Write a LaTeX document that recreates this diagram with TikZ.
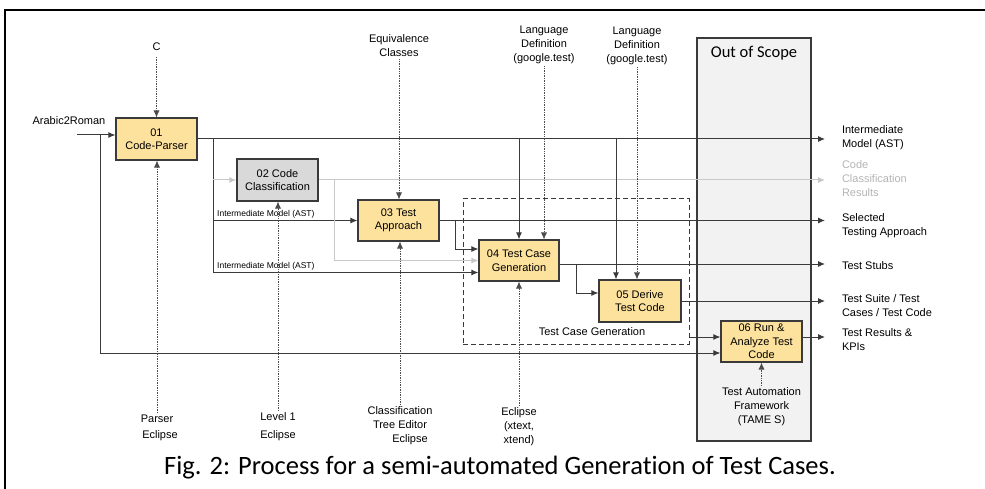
\documentclass[tikz,border=0pt]{standalone}
\usepackage{fontspec}
\setmainfont{Liberation Sans}
\newfontfamily\calibri[Ligatures=NoCommon]{Carlito}
\usepackage{xcolor}
\usetikzlibrary{arrows.meta}
\definecolor{procfill}{HTML}{FDE29D}
\definecolor{classfill}{HTML}{D9D9D9}
\definecolor{scopefill}{HTML}{F2F2F2}
\definecolor{lineclr}{HTML}{3A3A3A}
\definecolor{greyclr}{HTML}{C8C8C8}
\tikzset{>={Latex[length=7pt,width=6pt]}}

\begin{document}
\begin{tikzpicture}[line join=miter,x=1pt,y=-1pt,
	lbl/.style={align=center,font=\fontsize{11}{14}\selectfont,inner sep=2pt},
	proc/.style={draw=lineclr,line width=1.1pt,fill=procfill,minimum width=81pt,minimum height=42pt,align=center,font=\fontsize{11}{13.5}\selectfont,inner sep=1pt},
	flow/.style={->,draw=lineclr,line width=1pt},
	gflow/.style={->,draw=greyclr,line width=1pt},
	tool/.style={->,draw=black!70,densely dotted,line width=0.7pt},
	outlbl/.style={lbl,anchor=west,align=left,outer xsep=15pt},
	small/.style={font=\fontsize{8.5}{10}\selectfont,inner sep=1pt}]
		\useasboundingbox (0,0) rectangle (985,489);
		\draw[line width=1.5pt] (5,489) -- (5,10) -- (985,10);
		% out of scope and group
		\node[draw=lineclr,line width=1.1pt,fill=scopefill,minimum width=114pt,minimum height=403pt] (oos) at (754,239.5) {};
		\node[font=\calibri\fontsize{16.5}{18}\selectfont] (lOos) at (754,53) {Out of Scope};
		\node[draw=lineclr,line width=1pt,dash pattern=on 5pt off 3pt,minimum width=226pt,minimum height=145pt] (tcg) at (576,271.5) {};
		\node[lbl] (lTcg) at (592,332) {Test Case Generation};
		% process boxes
		\node[proc] (b01) at (156.5,139) {01\\Code-Parser};
		\node[proc,fill=classfill] (b02) at (277.5,180) {02 Code\\Classification};
		\node[proc,minimum height=41pt] (b03) at (398.5,220.5) {03 Test\\Approach};
		\node[proc,minimum width=80pt,minimum height=41pt] (b04) at (519,260.5) {04 Test Case\\Generation};
		\node[proc,minimum width=82pt] (b05) at (640,301) {05 Derive\\Test Code};
		\node[proc,minimum height=41pt] (b06) at (761.5,341.5) {06 Run \&\\Analyze Test\\Code};
		% inputs and tools
		\node[lbl] (lIn) at (69,121) {Arabic2Roman};
		\node[lbl] (lC) at (156.5,47) {C};
		\node[lbl] (lEq) at (399,46) {Equivalence\\Classes};
		\node[lbl] (lLang1) at (544,45) {Language\\Definition\\(google.test)};
		\node[lbl] (lLang2) at (637,46) {Language\\Definition\\(google.test)};
		\node[lbl] (lParser) at (157,428) {Parser\\[2pt]\hspace*{6pt}Eclipse};
		\node[lbl] (lLevel) at (278,427) {Level 1\\[4pt]Eclipse};
		\node[lbl] (lCte) at (400,426) {Classification\\Tree Editor\\\hspace*{20pt}Eclipse};
		\node[lbl] (lXtext) at (519,427) {Eclipse\\(xtext,\\xtend)};
		\node[lbl] (lTames) at (761.5,407) {Test Automation\\Framework\\(TAME S)};
		% outputs
		\node[outlbl] (oAST) at (825,138) {Intermediate\\Model (AST)};
		\node[outlbl,text=greyclr!90!black] (oCls) at (825,179) {Code\\Classification\\Results};
		\node[outlbl] (oSel) at (825,226) {Selected\\Testing Approach};
		\node[outlbl] (oStub) at (825,266) {Test Stubs};
		\node[outlbl] (oSuite) at (825,306) {Test Suite / Test\\Cases / Test Code};
		\node[outlbl] (oRes) at (825,340) {Test Results \&\\KPIs};
		\coordinate (in) at (77,135);
		\coordinate (j0) at (100,135);
		\coordinate (j1) at (213,139);
		\coordinate (j2) at (334,180);
		\coordinate (j3) at (455,220.5);
		\coordinate (j4) at (576,264);
		% control flow
		\draw[flow] (in) -- (in -| b01.west);
		\draw[flow] (j0) |- ([yshift=-11.5pt]b06.west);
		\draw[flow] (b01.east) -- (b01.east -| oAST.west);
		\draw[flow] (j1) |- (b03.west);
		\draw[flow] (j1) |- ([yshift=-12pt]b04.west);
		\node[small,anchor=south west] (lAst1) at (216,219) {Intermediate Model (AST)};
		\node[small,anchor=south west] (lAst2) at (216,271) {Intermediate Model (AST)};
		\draw[gflow] (j1 |- b02.west) -- (b02.west);
		\draw[gflow] (b02.east) -- (b02.east -| oCls.west);
		\draw[gflow] (j2) |- (b04.west);
		\draw[flow] (b03.east) -- (b03.east -| oSel.west);
		\draw[flow] (j3) |- ([yshift=11.5pt]b04.west);
		\draw[flow] (b04.north |- b01.east) -- (b04.north);
		\draw[flow] ([xshift=-24pt]b05.north |- b01.east) -- ([xshift=-24pt]b05.north);
		\draw[flow] ([yshift=-3.5pt]b04.east) -- ([yshift=-3.5pt]b04.east -| oStub.west);
		\draw[flow] (j4) |- ([yshift=8pt]b05.west);
		\draw[flow] (b05.east) -- (b05.east -| oSuite.west);
		\draw[flow] ([yshift=4.5pt]b06.west -| tcg.east) -- ([yshift=4.5pt]b06.west);
		\draw[flow] ([yshift=4.5pt]b06.east) -- ([yshift=4.5pt]b06.east -| oRes.west);
		% tools and controls
		\draw[tool] ([yshift=-4pt]lC.south) -- (lC.south |- b01.north);
		\draw[tool] (lEq.south) -- (lEq.south |- b03.north);
		\draw[tool] (lLang1.south) -- (lLang1.south |- b04.north);
		\draw[tool] (lLang2.south) -- (lLang2.south |- b05.north);
		\draw[tool] (lParser.north) -- (lParser.north |- b01.south);
		\draw[tool] (lLevel.north) -- (lLevel.north |- b02.south);
		\draw[tool] (lCte.north) -- (lCte.north |- b03.south);
		\draw[tool] (lXtext.north) -- (lXtext.north |- b04.south);
		\draw[tool] (lTames.north) -- (lTames.north |- b06.south);
		\node[font=\calibri\fontsize{26.5}{30}\selectfont] (cap) at (500,468) {Fig. 2: Process for a semi-automated Generation of Test Cases.};
		
\end{tikzpicture}
\end{document}
